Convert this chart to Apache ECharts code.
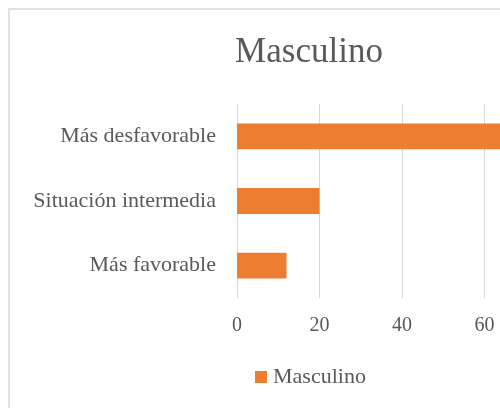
<!DOCTYPE html>
<html lang="es">
  <head>
    <meta charset="utf-8" />
    <title>Masculino</title>
    <script src="https://cdn.jsdelivr.net/npm/echarts@6/dist/echarts.min.js"></script>
    <style>
      html, body { margin: 0; padding: 0; background: #fff; }
      #chart1 { width: 500px; height: 408px; }
    </style>
  </head>
  <body>
    <div id="chart1"></div>
    <script type="text/javascript">
      // categorias (de abajo hacia arriba, como en Excel)
      var categorias = ["Más favorable", "Situación intermedia", "Más desfavorable"];
      var valores = [12, 20, 68];
      var serieNombre = "Masculino";

      var fuente = "'Liberation Serif', 'DejaVu Serif', serif";
      var gris = "#595959";

      var myChart = echarts.init(document.getElementById("chart1"));
      myChart.setOption({
        animation: false,
        title: {
          text: "Masculino",
          left: 304,
          textAlign: "center",
          top: 30,
          textStyle: {
            fontFamily: fuente,
            fontWeight: "normal",
            fontSize: 35,
            color: gris,
          },
        },
        // marco del grafico (cortado a la derecha y abajo)
        graphic: [
          {
            type: "rect",
            silent: true,
            shape: { x: 9, y: 9, width: 700, height: 600 },
            style: { fill: "none", stroke: "#d9d9d9", lineWidth: 1.5 },
          },
        ],
        legend: {
          data: [serieNombre],
          left: 255,
          top: 366,
          padding: 0,
          icon: "rect",
          itemWidth: 12,
          itemHeight: 12,
          itemGap: 10,
          textStyle: {
            fontFamily: fuente,
            fontSize: 22,
            color: gris,
            padding: [0, 0, 0, 1],
          },
        },
        grid: {
          left: 237,
          right: -67,
          top: 104,
          bottom: 110,
          containLabel: false,
          outerBoundsMode: "none",
        },
        xAxis: {
          type: "value",
          min: 0,
          max: 80,
          interval: 20,
          axisLine: { show: false },
          axisTick: { show: false },
          splitLine: { lineStyle: { color: "#d9d9d9", width: 1 } },
          axisLabel: {
            margin: 18,
            fontFamily: fuente,
            fontSize: 20,
            color: gris,
          },
        },
        yAxis: {
          type: "category",
          data: categorias,
          axisLine: { show: false },
          axisTick: { show: false },
          axisLabel: {
            margin: 21,
            fontFamily: fuente,
            fontSize: 22,
            color: gris,
          },
        },
        series: [
          {
            name: serieNombre,
            type: "bar",
            data: valores,
            barWidth: "40%",
            itemStyle: { color: "#ed7d31" },
          },
        ],
      });
    </script>
  </body>
</html>
